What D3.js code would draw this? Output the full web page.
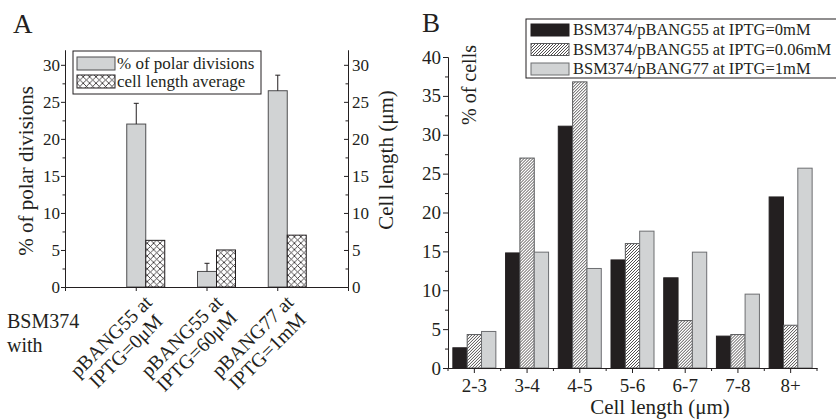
<!DOCTYPE html>
<html>
<head>
<meta charset="utf-8">
<script src="https://cdn.jsdelivr.net/npm/d3@7"></script>
<style>
  body { margin: 0; background: #fff; }
  svg { display: block; font-family: "Liberation Serif", "Times New Roman", serif; }
  text { fill: #231f20; }
</style>
</head>
<body>
<svg id="chart" width="836" height="419"></svg>
<script>
// ---- panel A data ----
const groupsA = ["pBANG55 at|IPTG=0μM", "pBANG55 at|IPTG=60μM", "pBANG77 at|IPTG=1mM"];
const polarDiv = [22.0, 2.1, 26.5];
const polarErr = [2.8, 1.1, 2.1];
const cellLenAvg = [6.3, 5.0, 7.0];
const ticksA = [0, 5, 10, 15, 20, 25, 30];

// ---- panel B data ----
const binsB = ["2-3", "3-4", "4-5", "5-6", "6-7", "7-8", "8+"];
const seriesB = ["BSM374/pBANG55 at IPTG=0mM", "BSM374/pBANG55 at IPTG=0.06mM", "BSM374/pBANG77 at IPTG=1mM"];
const ipt0 = [2.6, 14.8, 31.1, 13.9, 11.6, 4.1, 22.0];
const ipt006 = [4.3, 27.0, 36.8, 16.0, 6.1, 4.3, 5.5];
const ipt1 = [4.7, 14.9, 12.8, 17.6, 14.9, 9.5, 25.7];
const ticksB = [0, 5, 10, 15, 20, 25, 30, 35, 40];

const ink = "#231f20";
const grayFill = "#d1d3d4";
const grayStroke = "#6d6e71";

const svg = d3.select("#chart");
const defs = svg.append("defs");

// cross hatch for panel A
const cross = defs.append("pattern").attr("id", "cross")
  .attr("patternUnits", "userSpaceOnUse").attr("width", 6.4).attr("height", 6.4);
cross.append("rect").attr("width", 6.4).attr("height", 6.4).attr("fill", "#fff");
cross.append("path").attr("d", "M0,0L6.4,6.4M6.4,0L0,6.4")
  .attr("stroke", ink).attr("stroke-width", 0.8);

// diagonal hatch for panel B
const diag = defs.append("pattern").attr("id", "diag")
  .attr("patternUnits", "userSpaceOnUse").attr("width", 3).attr("height", 3);
diag.append("rect").attr("width", 3).attr("height", 3).attr("fill", "#fff");
diag.append("path").attr("d", "M0,3L3,0M-1,1L1,-1M2,4L4,2")
  .attr("stroke", ink).attr("stroke-width", 0.8);

function styleAxis(size) {
  return g => {
    g.attr("font-family", null).attr("font-size", null);
    g.selectAll("path, line").attr("stroke", ink).attr("stroke-width", 1);
    g.selectAll("text").attr("fill", ink).style("font-size", size + "px");
  };
}

// ================= Panel A =================
const xA = d3.scaleLinear().domain([0, 4]).range([65, 348]);
const yA = d3.scaleLinear().domain([0, 32]).range([287, 50]);
const barW = 19;

svg.append("text").attr("x", 13).attr("y", 33).style("font-size", "27px").text("A");

const gA = svg.append("g");

gA.selectAll("rect.pd").data(polarDiv).join("rect")
  .attr("x", (d, i) => xA(i + 1) - 9)
  .attr("y", d => yA(d))
  .attr("width", barW)
  .attr("height", d => yA(0) - yA(d))
  .attr("fill", grayFill).attr("stroke", "#4d4d4f").attr("stroke-width", 1);

gA.selectAll("rect.cl").data(cellLenAvg).join("rect")
  .attr("x", (d, i) => xA(i + 1) - 9 + barW)
  .attr("y", d => yA(d))
  .attr("width", barW)
  .attr("height", d => yA(0) - yA(d))
  .attr("fill", "url(#cross)").attr("stroke", ink).attr("stroke-width", 1);

// error bars (upper only)
polarDiv.forEach((v, i) => {
  const cx = xA(i + 1) + 0.5;
  gA.append("line").attr("x1", cx).attr("x2", cx)
    .attr("y1", yA(v)).attr("y2", yA(v + polarErr[i])).attr("stroke", ink);
  gA.append("line").attr("x1", cx - 2.5).attr("x2", cx + 2.5)
    .attr("y1", yA(v + polarErr[i])).attr("y2", yA(v + polarErr[i])).attr("stroke", ink);
});

const minorA = ticksA.slice(0, -1).map(t => t + 2.5);

// left axis
gA.append("g").attr("transform", `translate(${xA(0)},0)`)
  .call(d3.axisLeft(yA).tickValues(ticksA).tickSize(4).tickPadding(1).tickSizeOuter(0))
  .call(styleAxis(17));
gA.append("g").attr("transform", `translate(${xA(0)},0)`)
  .call(d3.axisLeft(yA).tickValues(minorA).tickSize(2.5).tickFormat("").tickSizeOuter(0))
  .call(styleAxis(17));

// right axis (ticks point inward)
gA.append("g").attr("transform", `translate(${xA(4)},0)`)
  .call(d3.axisLeft(yA).tickValues(ticksA).tickSize(4).tickFormat("").tickSizeOuter(0))
  .call(styleAxis(17));
gA.append("g").attr("transform", `translate(${xA(4)},0)`)
  .call(d3.axisLeft(yA).tickValues(minorA).tickSize(2.5).tickFormat("").tickSizeOuter(0))
  .call(styleAxis(17));
gA.append("g").selectAll("text").data(ticksA).join("text")
  .attr("x", xA(4) + 4).attr("y", d => yA(d) + 6)
  .style("font-size", "17px").text(d => d);

// bottom axis
gA.append("g").attr("transform", `translate(0,${yA(0)})`)
  .call(d3.axisBottom(xA).tickValues([1, 2, 3]).tickFormat("").tickSize(4).tickSizeOuter(4))
  .call(styleAxis(17));

// rotated category labels
groupsA.forEach((lab, i) => {
  const t = gA.append("text")
    .attr("transform", `translate(${xA(i + 1) - 20},341) rotate(-45)`)
    .attr("text-anchor", "middle").style("font-size", "20px");
  lab.split("|").forEach((line, j) => {
    t.append("tspan").attr("x", 0).attr("dy", j === 0 ? 0 : 21).text(line);
  });
});
gA.append("text").attr("x", 7).attr("y", 328).style("font-size", "20px").text("BSM374");
gA.append("text").attr("x", 7).attr("y", 352).style("font-size", "20px").text("with");

// axis titles
gA.append("text").attr("transform", `translate(33,171) rotate(-90)`)
  .attr("text-anchor", "middle").style("font-size", "21px").text("% of polar divisions");
gA.append("text").attr("transform", `translate(393,160) rotate(-90)`)
  .attr("text-anchor", "middle").style("font-size", "21px").text("Cell length (μm)");

// legend A
const legA = gA.append("g");
legA.append("rect").attr("x", 73).attr("y", 51).attr("width", 188).attr("height", 43)
  .attr("fill", "#fff").attr("stroke", ink);
const legItemsA = [
  { label: "% of polar divisions", fill: grayFill, stroke: "#4d4d4f" },
  { label: "cell length average", fill: "url(#cross)", stroke: ink }
];
legItemsA.forEach((d, i) => {
  legA.append("rect").attr("x", 77).attr("y", 57 + i * 18).attr("width", 38).attr("height", 13)
    .attr("fill", d.fill).attr("stroke", d.stroke);
  legA.append("text").attr("x", 117).attr("y", 69 + i * 18).style("font-size", "17px").text(d.label);
});

// ================= Panel B =================
const xB = d3.scaleBand().domain(binsB).range([448, 817]).paddingInner(0).paddingOuter(0);
const yB = d3.scaleLinear().domain([0, 40]).range([368, 57]);
const sub = d3.scaleBand().domain(seriesB).range([0, 43]);
const subOffset = (xB.bandwidth() - 43) / 2;
const fills = ["#231f20", "url(#diag)", grayFill];
const strokes = [ink, "#58595b", grayStroke];

svg.append("text").attr("x", 422).attr("y", 32).style("font-size", "27px").text("B");

const gB = svg.append("g");
const tableB = binsB.map((b, i) => ({ bin: b, vals: [ipt0[i], ipt006[i], ipt1[i]] }));

gB.selectAll("g.bin").data(tableB).join("g")
  .attr("transform", d => `translate(${xB(d.bin) + subOffset},0)`)
  .selectAll("rect").data(d => d.vals.map((v, k) => ({ s: seriesB[k], k, v })))
  .join("rect")
  .attr("x", d => sub(d.s))
  .attr("y", d => yB(d.v))
  .attr("width", sub.bandwidth())
  .attr("height", d => yB(0) - yB(d.v))
  .attr("fill", d => fills[d.k]).attr("stroke", d => strokes[d.k]).attr("stroke-width", 1);

// y axis
gB.append("g").attr("transform", `translate(${xB.range()[0]},0)`)
  .call(d3.axisLeft(yB).tickValues(ticksB).tickSize(5).tickPadding(2).tickSizeOuter(0))
  .call(styleAxis(19));
gB.append("g").attr("transform", `translate(${xB.range()[0]},0)`)
  .call(d3.axisLeft(yB).tickValues(ticksB.slice(0, -1).map(t => t + 2.5)).tickSize(3).tickFormat("").tickSizeOuter(0))
  .call(styleAxis(19));

// x axis: labels at centers, minor ticks at bin edges
gB.append("g").attr("transform", `translate(0,${yB(0)})`)
  .call(d3.axisBottom(xB).tickSize(5).tickPadding(6).tickSizeOuter(0))
  .call(styleAxis(19));
const edges = binsB.map(b => xB(b)).concat([xB.range()[1]]);
gB.append("g").selectAll("line").data(edges).join("line")
  .attr("x1", d => d).attr("x2", d => d)
  .attr("y1", yB(0)).attr("y2", yB(0) + 3)
  .attr("stroke", ink);

gB.append("text").attr("x", 660).attr("y", 414)
  .attr("text-anchor", "middle").style("font-size", "21px").text("Cell length (μm)");
gB.append("text").attr("transform", `translate(476,85) rotate(-90)`)
  .attr("text-anchor", "middle").style("font-size", "20px").text("% of cells");

// legend B
const legB = gB.append("g");
legB.append("rect").attr("x", 526).attr("y", 19).attr("width", 320).attr("height", 59)
  .attr("fill", "#fff").attr("stroke", ink);
seriesB.forEach((s, i) => {
  legB.append("rect").attr("x", 531).attr("y", 24 + i * 19.5).attr("width", 38).attr("height", 12)
    .attr("fill", fills[i]).attr("stroke", strokes[i]);
  legB.append("text").attr("x", 573).attr("y", 35 + i * 19.5).style("font-size", "16.5px").text(s);
});
</script>
</body>
</html>
